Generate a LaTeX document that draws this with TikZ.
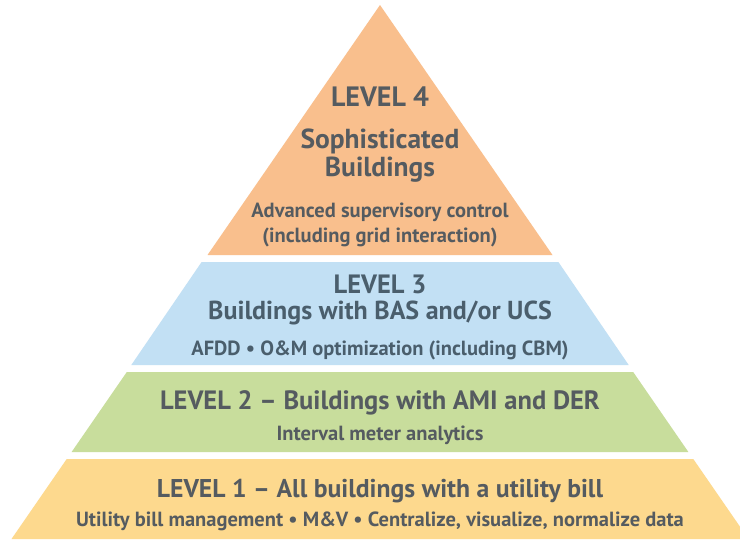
\documentclass[tikz,border=0pt]{standalone}
\usepackage{fontspec}
\setmainfont{PT Sans}
\definecolor{orangeL}{HTML}{F9BF8D}
\definecolor{blueL}{HTML}{C2E0F4}
\definecolor{greenL}{HTML}{C8DD9C}
\definecolor{yellowL}{HTML}{FDD98E}
\definecolor{txt}{HTML}{555B60}
\definecolor{txtb}{HTML}{4A5E6C}
\tikzset{
  lbl/.style={anchor=base, inner sep=0pt, text=txt},
  head/.style={lbl, font=\bfseries\fontsize{26.5}{30}\selectfont},
  sub/.style={lbl, font=\bfseries\fontsize{20.5}{24}\selectfont},
}
\begin{document}
\begin{tikzpicture}[x=1pt,y=-1pt]
\useasboundingbox (0,0) rectangle (740,539);
\fill[white] (0,0) rectangle (740,539);
% level 4
\fill[orangeL] (380,5) -- (552.5,255) -- (207.5,255) -- cycle;
% level 3
\fill[blueL] (201.6,262) -- (558.4,262) -- (628.7,365) -- (131.3,365) -- cycle;
% level 2
\fill[greenL] (126.8,372) -- (633.2,372) -- (688.4,452) -- (71.6,452) -- cycle;
% level 1
\fill[yellowL] (66.7,459) -- (693.3,459) -- (748.5,539) -- (11.5,539) -- cycle;

\node[head, font=\bfseries\fontsize{28}{30}\selectfont] (l4) at (380,106) {LEVEL 4};
\node[head, font=\bfseries\fontsize{27.5}{30}\selectfont] (l4a) at (380,148) {Sophisticated};
\node[head, font=\bfseries\fontsize{27.5}{30}\selectfont] (l4b) at (380,176) {Buildings};
\node[sub] (l4c) at (380,217) {Advanced supervisory control};
\node[sub] (l4d) at (380,242) {(including grid interaction)};

\node[head, text=txtb] (l3) at (380,293) {LEVEL 3};
\node[head, text=txtb, font=\bfseries\fontsize{26}{30}\selectfont] (l3a) at (380,319) {Buildings with BAS and/or UCS};
\node[sub, text=txtb] (l3b) at (380,355) {AFDD \textbullet\ O\&M optimization (including CBM)};

\node[head] (l2) at (380,409) {LEVEL 2 – Buildings with AMI and DER};
\node[sub] (l2a) at (380,440) {Interval meter analytics};

\node[head, font=\bfseries\fontsize{25.7}{30}\selectfont] (l1) at (380,497) {LEVEL 1 – All buildings with a utility bill};
\node[sub] (l1a) at (380,526) {Utility bill management \textbullet\ M\&V \textbullet\ Centralize, visualize, normalize data};
\end{tikzpicture}
\end{document}
